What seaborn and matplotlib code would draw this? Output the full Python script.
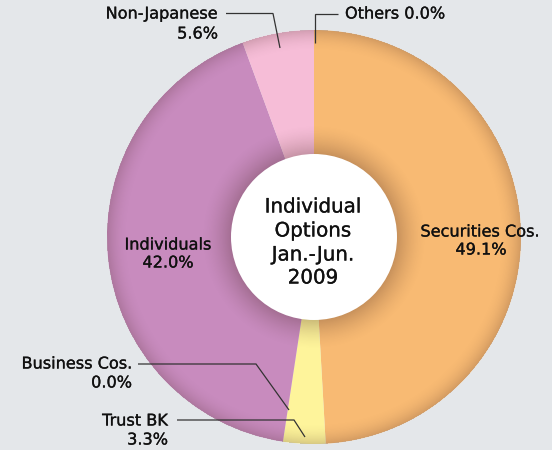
import numpy as np
import matplotlib
matplotlib.use("Agg")
import matplotlib.pyplot as plt
from matplotlib.patches import Circle
import matplotlib.patheffects as pe
import seaborn as sns

# ---- data ----
categories = ["Securities Cos.", "Trust BK", "Business Cos.", "Individuals", "Non-Japanese", "Others"]
shares = [49.1, 3.3, 0.0, 42.0, 5.6, 0.0]
slice_colors = ["#F8BA73", "#FEF49B", "#D9D9D9", "#C88BBE", "#F6BDD7", "#CCCCCC"]
center_title = ["Individual", "Options", "Jan.-Jun.", "2009"]

sns.set_theme(style="white")
plt.rcParams['font.family'] = ['DejaVu Sans']

W, H = 552, 450
fig = plt.figure(figsize=(W / 100, H / 100), dpi=100)
bg = "#E4E7EA"
fig.patch.set_facecolor(bg)
ax = fig.add_axes([0, 0, 1, 1])
ax.set_facecolor(bg)

def Y(y):  # pixel row -> data y
    return H - y

cx, cy_pix, R, r_in = 314, 237, 207, 83
palette = sns.color_palette(slice_colors)
ax.pie(shares, colors=palette, startangle=90, counterclock=False,
       center=(cx, Y(cy_pix)), radius=R, wedgeprops=dict(linewidth=0))

# shading overlay (inner shadow around hole and darker outer rim)
yy, xx = np.mgrid[0:H, 0:W] + 0.5
r = np.hypot(xx - cx, yy - cy_pix)
inner = np.clip(1 - (r - r_in) / 30, 0, 1) ** 1.6 * 0.26
outer = np.clip((r - 185) / (R - 185), 0, 1) ** 2 * 0.20
alpha = np.maximum(inner, outer)
alpha[(r > R) | (r < r_in - 1)] = 0
rgba = np.zeros((H, W, 4))
rgba[..., 0] = 0.25
rgba[..., 1] = 0.12
rgba[..., 2] = 0.10
rgba[..., 3] = alpha
ax.imshow(rgba, extent=(0, W, 0, H), origin='upper', zorder=3, interpolation='bilinear')

ax.add_patch(Circle((cx, Y(cy_pix)), r_in, facecolor="white", edgecolor="none", zorder=4))

ax.set_xlim(0, W)
ax.set_ylim(0, H)
ax.set_aspect('equal')
ax.axis('off')

txt = "#111111"
fs = 11.6
stroke = [pe.withStroke(linewidth=0.2, foreground=txt)]
def T(x, y, s, ha="center", size=fs):
    ax.text(x, Y(y), s, ha=ha, va="center", fontsize=size, color=txt, zorder=6,
            path_effects=stroke)

pct = {c: f"{v:.1f}%" for c, v in zip(categories, shares)}

# center title
for s, y in zip(center_title, [207, 231, 255, 278]):
    T(313, y, s, size=14.3)

# inside labels
T(480, 232, categories[0]); T(481, 250, pct[categories[0]])
T(168, 245, categories[3]); T(168, 263, pct[categories[3]])

# outside labels
T(218, 14, categories[4], ha="right"); T(218, 34, pct[categories[4]], ha="right")
T(345, 14, f"{categories[5]} {pct[categories[5]]}", ha="left")
T(132, 364, categories[2], ha="right"); T(132, 383, pct[categories[2]], ha="right")
T(168, 421, categories[1], ha="right"); T(168, 440, pct[categories[1]], ha="right")

lc = "#333333"
def L(pts):
    ax.plot([p[0] for p in pts], [Y(p[1]) for p in pts], color=lc, lw=0.9, zorder=6,
            solid_capstyle="butt", solid_joinstyle="miter")

L([(226, 13.5), (273, 13.5), (280, 48)])
L([(338, 13.5), (314.5, 13.5), (314.5, 43)])
L([(138, 364), (256, 364), (289, 410)])
L([(177, 420), (294, 420), (305, 437)])

fig.savefig("out.png", dpi=100, facecolor=bg)
